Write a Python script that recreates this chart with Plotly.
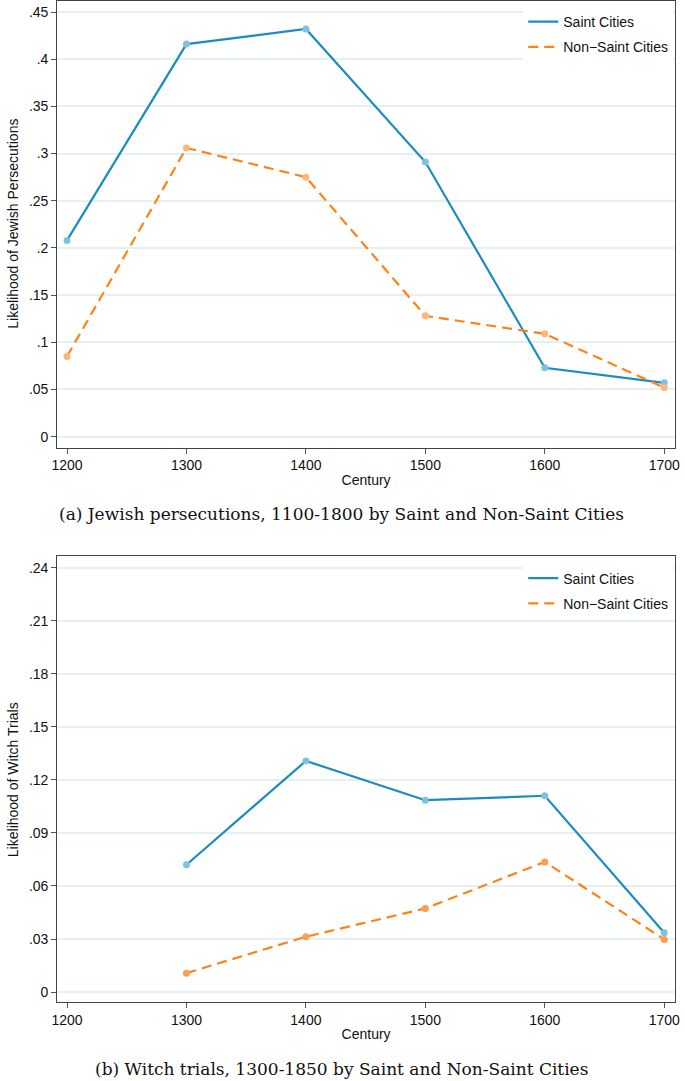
import plotly.graph_objects as go

centuries = [1200, 1300, 1400, 1500, 1600, 1700]
jew_saint = [0.208, 0.416, 0.432, 0.291, 0.073, 0.057]
jew_nonsaint = [0.085, 0.306, 0.275, 0.128, 0.109, 0.052]

witch_centuries = [1300, 1400, 1500, 1600, 1700]
witch_saint = [0.072, 0.1307, 0.1085, 0.111, 0.0335]
witch_nonsaint = [0.0107, 0.0313, 0.0473, 0.0736, 0.0298]

jew_ticks = [0, 0.05, 0.1, 0.15, 0.2, 0.25, 0.3, 0.35, 0.4, 0.45]
jew_ticktext = ["0", ".05", ".1", ".15", ".2", ".25", ".3", ".35", ".4", ".45"]
witch_ticks = [0, 0.03, 0.06, 0.09, 0.12, 0.15, 0.18, 0.21, 0.24]
witch_ticktext = ["0", ".03", ".06", ".09", ".12", ".15", ".18", ".21", ".24"]

W, H = 685, 1081
BLUE = "#1a8cbf"
BLUE_M = "#7cc3e2"
ORANGE = "#ff8214"
ORANGE_M = "#fdb57a"
ORANGE_M2 = "#fb9e4c"

fig = go.Figure()

def add_panel(x, s, ns, xa, ya, legend, om, tag):
    fig.add_trace(go.Scatter(x=x, y=s, mode="lines", name="Saint Cities", legendgroup=tag + "s",
                             line=dict(color=BLUE, width=2.2), xaxis=xa, yaxis=ya, legend=legend))
    fig.add_trace(go.Scatter(x=x, y=ns, mode="lines", name="Non\u2212Saint Cities", legendgroup=tag + "n",
                             line=dict(color=ORANGE, width=2.2, dash="10px,6px"), xaxis=xa, yaxis=ya, legend=legend))
    fig.add_trace(go.Scatter(x=x, y=s, mode="markers", showlegend=False,
                             marker=dict(color=BLUE_M, size=7), xaxis=xa, yaxis=ya))
    fig.add_trace(go.Scatter(x=x, y=ns, mode="markers", showlegend=False,
                             marker=dict(color=om, size=7), xaxis=xa, yaxis=ya))

add_panel(centuries, jew_saint, jew_nonsaint, "x", "y", "legend", ORANGE_M, "a")
add_panel(witch_centuries, witch_saint, witch_nonsaint, "x2", "y2", "legend2", ORANGE_M2, "b")

NARROW = "Liberation Sans Narrow, Liberation Sans, Arial"
tickfont = dict(family=NARROW, size=14, color="#111")
xdom = [52 / W, 680 / W]
xrange = [1200 - 10 / 1.214, 1700 + 11 / 1.214]

axis_common = dict(showline=True, linecolor="#444", linewidth=1, mirror=True,
                   ticks="outside", ticklen=5, tickcolor="#555", tickfont=tickfont,
                   zeroline=False)

title_font = dict(family="Liberation Sans", size=14, color="#111")
leg_font = dict(family="Liberation Sans", size=14, color="#111")

fig.update_layout(
    width=W, height=H,
    margin=dict(l=0, r=0, t=0, b=0),
    plot_bgcolor="white", paper_bgcolor="white",
    xaxis=dict(domain=xdom, range=xrange, tickvals=centuries, showgrid=False, anchor="y",
               title=dict(text="Century", font=dict(family=NARROW, size=14, color="#111"), standoff=2),
               **axis_common),
    yaxis=dict(domain=[1 - 447 / H, 1], range=[-0.0116, 0.4617], tickvals=jew_ticks, ticktext=jew_ticktext,
               showgrid=True, gridcolor="#e6f0f2", gridwidth=1.5, anchor="x",
               **axis_common),
    xaxis2=dict(domain=xdom, range=xrange, tickvals=centuries, showgrid=False, anchor="y2",
                title=dict(text="Century", font=dict(family=NARROW, size=14, color="#111"), standoff=2),
                **axis_common),
    yaxis2=dict(domain=[1 - 1002 / H, 1 - 556 / H], range=[-0.00565, 0.2463], tickvals=witch_ticks, ticktext=witch_ticktext,
                showgrid=True, gridcolor="#e6f0f2", gridwidth=1.5, anchor="x2",
                **axis_common),
    legend=dict(x=0.99, y=1 - 5 / H, xanchor="right", yanchor="top", bgcolor="white",
                font=leg_font, tracegroupgap=4),
    legend2=dict(x=0.99, y=1 - 562 / H, xanchor="right", yanchor="top", bgcolor="white",
                 font=leg_font, tracegroupgap=4),
    showlegend=True,
)

# rotated y-axis titles
fig.add_annotation(text="Likelihood of Jewish Persecutions", textangle=-90,
                   x=7 / W, y=1 - 223 / H, xref="paper", yref="paper", showarrow=False,
                   xanchor="center", yanchor="middle", font=title_font)
fig.add_annotation(text="Likelihood of Witch Trials", textangle=-90,
                   x=7 / W, y=1 - 779 / H, xref="paper", yref="paper", showarrow=False,
                   xanchor="center", yanchor="middle", font=title_font)

cap_font = dict(family="DejaVu Serif, Liberation Serif", size=17, color="#111")
fig.add_annotation(text="(a) Jewish persecutions, 1100-1800 by Saint and Non-Saint Cities",
                   x=341 / W, y=1 - 513 / H, xref="paper", yref="paper", showarrow=False,
                   xanchor="center", yanchor="middle", font=cap_font)
fig.add_annotation(text="(b) Witch trials, 1300-1850 by Saint and Non-Saint Cities",
                   x=341 / W, y=1 - 1069 / H, xref="paper", yref="paper", showarrow=False,
                   xanchor="center", yanchor="middle", font=cap_font)

fig.write_html("out.html", config={"displayModeBar": False},
               post_script="document.body.style.margin='0';document.body.style.overflow='hidden';")
